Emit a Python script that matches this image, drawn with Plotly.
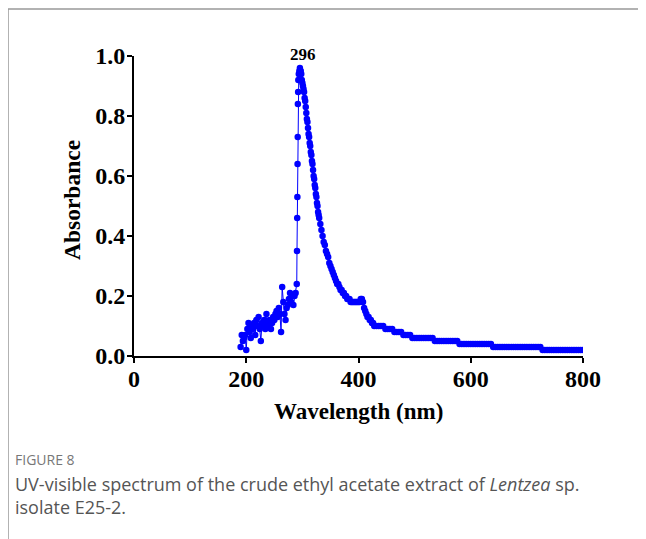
import plotly.graph_objects as go

# ---- data ----
noise_nm = [190, 192, 194, 196, 198, 200, 202, 204, 206, 208, 210, 212, 214, 216, 218, 220, 222, 224, 226, 228,
            230, 232, 234, 236, 238, 240, 242, 244, 246, 248, 250, 252, 254, 256, 258, 260, 262, 264, 266, 268,
            270, 272, 274, 276, 278, 280, 282, 284, 286, 288]
noise_abs = [0.03, 0.07, 0.05, 0.06, 0.07, 0.02, 0.09, 0.11, 0.08, 0.06, 0.10, 0.09, 0.11, 0.07, 0.12, 0.10, 0.13, 0.09, 0.05, 0.11,
             0.10, 0.12, 0.09, 0.14, 0.11, 0.10, 0.12, 0.09, 0.11, 0.13, 0.12, 0.14, 0.15, 0.13, 0.16, 0.14, 0.08, 0.23, 0.18, 0.14,
             0.12, 0.16, 0.17, 0.19, 0.21, 0.18, 0.20, 0.17, 0.20, 0.21]

rise_nm = [290.0, 290.4, 290.8, 291.1, 291.4, 291.7, 292.0, 292.4, 292.8, 293.6, 294.6, 295.6, 296.3]
rise_abs = [0.24, 0.35, 0.46, 0.53, 0.64, 0.73, 0.84, 0.88, 0.92, 0.94, 0.95, 0.96, 0.95]

decay_nm = [297, 298, 299, 300, 301, 302, 303, 304, 305, 306, 307, 308, 309, 310, 311, 312, 313, 314, 315, 316,
            317, 318, 319, 320, 321, 322, 323, 324, 325, 326, 327, 328, 329, 330,
            332, 334, 336, 338, 340, 342, 344, 346, 348, 350,
            352, 354, 356, 358, 360, 362, 364, 366, 368, 370,
            372, 374, 376, 378, 380, 382, 384, 386, 388, 390,
            392, 394, 396, 398, 400, 402, 404, 406, 408, 410,
            412, 414, 416, 418, 420, 422, 424, 426]
decay_abs = [0.95, 0.94, 0.92, 0.91, 0.90, 0.89, 0.88, 0.86, 0.85, 0.83, 0.81, 0.79, 0.78, 0.76, 0.74, 0.73, 0.71, 0.70, 0.68, 0.67,
             0.65, 0.64, 0.62, 0.60, 0.59, 0.57, 0.56, 0.54, 0.53, 0.51, 0.50, 0.48, 0.47, 0.46,
             0.44, 0.42, 0.40, 0.38, 0.37, 0.35, 0.34, 0.33, 0.31, 0.30,
             0.29, 0.28, 0.27, 0.26, 0.25, 0.24, 0.24, 0.23, 0.22, 0.22,
             0.21, 0.21, 0.20, 0.20, 0.19, 0.19, 0.19, 0.18, 0.18, 0.18,
             0.18, 0.18, 0.18, 0.18, 0.18, 0.18, 0.19, 0.19, 0.18, 0.16,
             0.15, 0.14, 0.13, 0.13, 0.12, 0.12, 0.11, 0.11]

tail_nm = [428, 432, 436, 440, 444, 448, 452, 456, 460, 464, 468, 472, 476, 480, 484, 488, 492,
           496, 500, 504, 508, 512, 516, 520, 524, 528, 532,
           536, 540, 544, 548, 552, 556, 560, 564, 568, 572, 576,
           580, 584, 588, 592, 596, 600, 604, 608, 612, 616, 620, 624, 628, 632, 636,
           640, 644, 648, 652, 656, 660, 664, 668, 672, 676, 680, 684, 688, 692, 696, 700, 704, 708, 712, 716, 720, 724,
           728, 732, 736, 740, 744, 748, 752, 756, 760, 764, 768, 772, 776, 780, 784, 788, 792, 796, 800]
tail_abs = [0.10, 0.10, 0.10, 0.10, 0.10, 0.09, 0.09, 0.09, 0.09, 0.08, 0.08, 0.08, 0.08, 0.07, 0.07, 0.07, 0.07,
            0.06, 0.06, 0.06, 0.06, 0.06, 0.06, 0.06, 0.06, 0.06, 0.06,
            0.05, 0.05, 0.05, 0.05, 0.05, 0.05, 0.05, 0.05, 0.05, 0.05, 0.05,
            0.04, 0.04, 0.04, 0.04, 0.04, 0.04, 0.04, 0.04, 0.04, 0.04, 0.04, 0.04, 0.04, 0.04, 0.04,
            0.03, 0.03, 0.03, 0.03, 0.03, 0.03, 0.03, 0.03, 0.03, 0.03, 0.03, 0.03, 0.03, 0.03, 0.03, 0.03, 0.03, 0.03, 0.03, 0.03, 0.03, 0.03,
            0.02, 0.02, 0.02, 0.02, 0.02, 0.02, 0.02, 0.02, 0.02, 0.02, 0.02, 0.02, 0.02, 0.02, 0.02, 0.02, 0.02, 0.02, 0.02]

x_ticks = [0, 200, 400, 600, 800]
y_ticks = [0.0, 0.2, 0.4, 0.6, 0.8, 1.0]
peak_label = "296"
peak_nm = 301

wavelength = noise_nm + rise_nm + decay_nm + tail_nm
absorbance = noise_abs + rise_abs + decay_abs + tail_abs

# ---- layout geometry (page pixels; the page body adds an 8 px offset) ----
OFF = 8
W, H = 646 - OFF, 539 - OFF
X0, X1 = 134, 583      # plot area left/right in page px
Y0, Y1 = 56, 356       # plot area top/bottom in page px
L, R, T, B = X0 - OFF, W - (X1 - OFF), Y0 - OFF, H - (Y1 - OFF)
PW, PH = W - L - R, H - T - B


def px(xp):
    return (xp - OFF - L) / PW


def py(yp):
    return (Y1 - yp) / PH


serif = "Liberation Serif, Times New Roman, serif"
sans = "Open Sans, Noto Sans, sans-serif"

fig = go.Figure()
fig.add_trace(go.Scatter(
    x=wavelength, y=absorbance, mode="lines+markers",
    line=dict(color="#0000FF", width=1),
    marker=dict(color="#0000FF", size=6.5),
    showlegend=False, hoverinfo="skip"))

axis_common = dict(showline=True, linecolor="black", linewidth=2, ticks="outside",
                   ticklen=5, tickwidth=2, tickcolor="black", showgrid=False, zeroline=False,
                   tickfont=dict(family=serif, size=24, color="black", weight="bold"))

fig.update_layout(
    width=W, height=H, margin=dict(l=L, r=R, t=T, b=B, pad=0),
    paper_bgcolor="white", plot_bgcolor="white",
    xaxis=dict(range=[0, 800], tickvals=x_ticks, ticktext=[str(v) for v in x_ticks],
               ticklabelstandoff=-5, **axis_common),
    yaxis=dict(range=[0, 1.0], tickvals=y_ticks, ticktext=[f"{v:.1f}" for v in y_ticks],
               ticklabelstandoff=-3, **axis_common),
)

annotations = [
    dict(x=peak_nm, y=py(55), xref="x", yref="paper", text=f"<b>{peak_label}</b>", showarrow=False,
         font=dict(family=serif, size=17, color="black"), yanchor="middle", xanchor="center"),
    dict(x=px(358), y=py(411), xref="paper", yref="paper", text="<b>Wavelength (nm)</b>", showarrow=False,
         font=dict(family=serif, size=23, color="black"), xanchor="center", yanchor="middle"),
    dict(x=px(72), y=py(200), xref="paper", yref="paper", text="<b>Absorbance</b>", showarrow=False,
         textangle=-90, font=dict(family=serif, size=23.5, color="black"), xanchor="center", yanchor="middle"),
    dict(x=px(13), y=py(459), xref="paper", yref="paper", text="FIGURE 8", showarrow=False,
         font=dict(family=sans, size=14, color="#777777"), xanchor="left", yanchor="middle"),
    dict(x=px(13), y=py(484), xref="paper", yref="paper",
         text="UV-visible spectrum of the crude ethyl acetate extract of <i>Lentzea</i> sp.", showarrow=False,
         font=dict(family=sans, size=18, color="#555555"), xanchor="left", yanchor="middle"),
    dict(x=px(13), y=py(507), xref="paper", yref="paper", text="isolate E25-2.", showarrow=False,
         font=dict(family=sans, size=18, color="#555555"), xanchor="left", yanchor="middle"),
]
fig.update_layout(annotations=annotations)

fig.add_shape(type="line", xref="paper", yref="paper", x0=px(8), x1=px(660), y0=py(9), y1=py(9),
              line=dict(color="#999999", width=1.5))
fig.add_shape(type="line", xref="paper", yref="paper", x0=px(8), x1=px(8), y0=py(9), y1=py(560),
              line=dict(color="#999999", width=1.5))

fig.write_html("out.html")
